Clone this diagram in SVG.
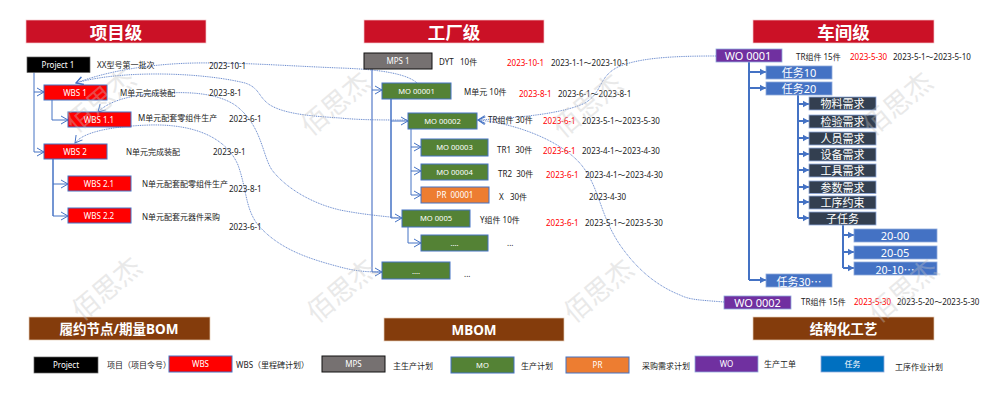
<svg xmlns="http://www.w3.org/2000/svg" width="1000" height="402" viewBox="0 0 1000 402">
<style>
text{font-family:"Noto Sans","Noto Sans CJK SC",sans-serif;font-size:8px;fill:#222}
.c text,.n text{text-anchor:middle;dominant-baseline:central;fill:#fff}
.hd rect{fill:#cb1126;stroke:#f3c6cc;stroke-width:.7}
.hd text{font-size:17.5px;font-weight:700}
.ft rect{fill:#843c0c;stroke:#e6cdb8;stroke-width:.7}
.ft text{font-size:13.5px;font-weight:700}
.k{fill:#000;stroke:#666;stroke-width:.7}
.r{fill:#f00;stroke:#4472c4;stroke-width:1}
.g{fill:#767171;stroke:#111;stroke-width:1}
.m{fill:#548235;stroke:#4472c4;stroke-width:1}
.m + text{font-size:7.6px}
.o{fill:#ed7d31;stroke:#4472c4;stroke-width:1}
.p{fill:#7030a0;stroke:#8faadc;stroke-width:.8}
.b{fill:#4472c4;stroke:#8faadc;stroke-width:.8}
.d{fill:#333f50;stroke:#8faadc;stroke-width:.8}
.u{fill:#0070c0;stroke:#8faadc;stroke-width:.8}
.w text{font-size:11px}
.cjk{font-family:"Noto Sans CJK SC",sans-serif}
.red{fill:#f00}
.tree{fill:none;stroke:#4472c4;stroke-width:1;marker-end:url(#open)}
.line{fill:none;stroke:#4472c4;stroke-width:1}
.lt{stroke:#7f9bd6;stroke-width:1.6}
.th{stroke-width:1.5}
.fat{fill:none;stroke:#4472c4;stroke-width:2}
.fata{fill:none;stroke:#4472c4;stroke-width:2;marker-end:url(#solid)}
.dot{fill:none;stroke:#6486cc;stroke-width:1;stroke-dasharray:1 .8;marker-end:url(#open)}
.wm text{font-size:27px;fill:#c4c4c4;opacity:.36;text-anchor:middle;dominant-baseline:central}
</style>
<defs>
<marker id="open" markerUnits="userSpaceOnUse" markerWidth="10" markerHeight="10" refX="8" refY="5" orient="auto"><path d="M1 1L8 5L1 9" fill="none" stroke="#4472c4" stroke-width="1"/></marker>
<marker id="solid" markerUnits="userSpaceOnUse" markerWidth="7" markerHeight="8" refX="6" refY="4" orient="auto"><path d="M0 .8L6 4L0 7.2Z" fill="#4472c4"/></marker>
</defs>
<g id="connectors">
<path class="line" d="M34 72V152"/><path class="tree" d="M34 92H44"/><path class="tree" d="M34 152H44"/>
<path class="tree" d="M52 100V120H68"/>
<path class="line th" d="M53 159V216"/><path class="tree" d="M53 184H68"/><path class="tree" d="M53 216H68"/>
<path class="line lt" d="M372 69V272"/><path class="tree" d="M372 90H382"/><path class="tree" d="M372 272H382"/>
<path class="line th" d="M391 99V218"/><path class="tree" d="M391 121H408"/><path class="tree" d="M391 218H402"/>
<path class="line" d="M411 129V195"/><path class="tree" d="M411 147H421"/><path class="tree" d="M411 171H421"/><path class="tree" d="M411 195H421"/>
<path class="tree" d="M408 227V243H421"/>
<path class="fat" d="M749 62V280"/><path class="fata" d="M749 72H766"/><path class="fata" d="M749 88H766"/><path class="fata" d="M749 280H766"/>
<path class="fat" d="M798 95V218"/><path class="fata" d="M798 104H809"/><path class="fata" d="M798 121H809"/><path class="fata" d="M798 138H809"/><path class="fata" d="M798 154H809"/><path class="fata" d="M798 170H809"/><path class="fata" d="M798 187H809"/><path class="fata" d="M798 202H809"/><path class="fata" d="M798 218H809"/>
<path class="fat" d="M843 225V268"/><path class="fata" d="M843 235H854"/><path class="fata" d="M843 252H854"/><path class="fata" d="M843 268H854"/>
<path class="dot" d="M417 83C405 72 370 69 340 68C290 66 250 63 213 63C160 62 110 70 76 83"/>
<path class="dot" d="M407 120C380 120 360 120 340 118C310 116 285 114 270 105C258 97 260 88 245 83C200 72 120 70 76 83"/>
<path class="dot" d="M400 218C380 216 360 214 340 210C310 203 285 187 272 170C262 155 262 125 235 105C215 92 185 92 165 93C140 94 112 98 98 112"/>
<path class="dot" d="M382 272C365 272 355 271 340 267C310 259 280 250 258 225C245 208 247 190 238 165C225 135 190 124 150 125C120 126 85 130 75 143"/>
<path class="dot" d="M716 56C680 56 640 57 618 67C598 77 603 92 585 103C560 115 510 118 478 120"/>
<path class="dot" d="M724 302C700 300 690 300 680 295C650 283 632 262 620 245C600 215 600 190 583 167C565 143 520 124 478 120"/>
</g>
<g id="header-project" class="n hd"><rect x="26" y="20" width="180" height="23"/><text x="116" y="31.5">项目级</text></g>
<g id="header-factory" class="n hd"><rect x="364" y="20" width="180" height="23"/><text x="454" y="31.5">工厂级</text></g>
<g id="header-workshop" class="n hd"><rect x="753" y="20" width="181" height="23"/><text x="843.5" y="31.5">车间级</text></g>
<g id="footer-bom" class="n ft"><rect x="29" y="317" width="181" height="23"/><text x="119" y="328.5">履约节点/期量BOM</text></g>
<g id="footer-mbom" class="n ft"><rect x="384" y="318" width="180" height="23"/><text x="474" y="329.5">MBOM</text></g>
<g id="footer-process" class="n ft"><rect x="753" y="317" width="181" height="23"/><text x="843.5" y="328.5">结构化工艺</text></g>

<g id="project-1" class="n"><rect class="k" x="27" y="57" width="63" height="15.500"/><text x="58" y="64.500">Project 1</text></g>
<g id="wbs-1" class="n"><rect class="r" x="44" y="85" width="63" height="15"/><text x="75" y="92">WBS 1</text></g>
<g id="wbs-1-1" class="n"><rect class="r" x="68" y="112" width="63" height="15"/><text x="99" y="119">WBS 1.1</text></g>
<g id="wbs-2" class="n"><rect class="r" x="44" y="144" width="63" height="15"/><text x="75" y="151">WBS 2</text></g>
<g id="wbs-2-1" class="n"><rect class="r" x="68" y="176" width="63" height="15"/><text x="99" y="183">WBS 2.1</text></g>
<g id="wbs-2-2" class="n"><rect class="r" x="68" y="208" width="63" height="15"/><text x="99" y="215">WBS 2.2</text></g>

<g id="mps-1" class="n"><rect class="g" x="364" y="53" width="68" height="16"/><text x="398" y="60.500">MPS 1</text></g>
<g id="mo-00001" class="n"><rect class="m" x="382" y="83" width="69" height="16"/><text x="416.500" y="90.500">MO 00001</text></g>
<g id="mo-00002" class="n"><rect class="m" x="408" y="113" width="69" height="16"/><text x="442.500" y="120.500">MO 00002</text></g>
<g id="mo-00003" class="n"><rect class="m" x="421" y="139" width="67" height="17"/><text x="454.500" y="147">MO 00003</text></g>
<g id="mo-00004" class="n"><rect class="m" x="421" y="164" width="67" height="16"/><text x="454.500" y="171.500">MO 00004</text></g>
<g id="pr-00001" class="n"><rect class="o" x="421" y="187" width="68" height="16"/><text x="455" y="194.500" xml:space="preserve">PR  00001</text></g>
<g id="mo-0005" class="n"><rect class="m" x="402" y="210" width="68" height="17"/><text x="436" y="218">MO 0005</text></g>
<g id="mo-more-1" class="n"><rect class="m" x="421" y="235" width="67" height="16"/><text x="454.500" y="243">....</text></g>
<g id="mo-more-2" class="n"><rect class="m" x="382" y="262" width="68" height="17"/><text x="416" y="271">....</text></g>

<g id="wo-0001" class="n w"><rect class="p" x="716" y="49" width="66" height="13"/><text x="748" y="55.500">WO 0001</text></g>
<g id="task-10" class="n w"><rect class="b" x="766" y="66" width="66" height="13"/><text x="799" y="72.500">任务10</text></g>
<g id="task-20" class="n w"><rect class="b" x="766" y="82" width="66" height="13"/><text x="799" y="88.500">任务20</text></g>
<g id="req-material" class="n w"><rect class="d" x="809" y="97" width="67" height="13"/><text x="842.500" y="103.500">物料需求</text></g>
<g id="req-inspect" class="n w"><rect class="d" x="809" y="115" width="67" height="13"/><text x="842.500" y="121.500">检验需求</text></g>
<g id="req-staff" class="n w"><rect class="d" x="809" y="132" width="67" height="13"/><text x="842.500" y="138.500">人员需求</text></g>
<g id="req-equip" class="n w"><rect class="d" x="809" y="148" width="67" height="13"/><text x="842.500" y="154.500">设备需求</text></g>
<g id="req-tool" class="n w"><rect class="d" x="809" y="164" width="67" height="13"/><text x="842.500" y="170.500">工具需求</text></g>
<g id="req-param" class="n w"><rect class="d" x="809" y="181" width="67" height="12.500"/><text x="842.500" y="187">参数需求</text></g>
<g id="req-constraint" class="n w"><rect class="d" x="809" y="196" width="67" height="13"/><text x="842.500" y="202.500">工序约束</text></g>
<g id="subtask" class="n w"><rect class="d" x="809" y="212" width="67" height="13"/><text x="842.500" y="218.500">子任务</text></g>
<g id="sub-20-00" class="n w"><rect class="b" x="854" y="229" width="83" height="13"/><text x="895" y="235.500">20-00</text></g>
<g id="sub-20-05" class="n w"><rect class="b" x="854" y="246" width="83" height="13"/><text x="895" y="252.500">20-05</text></g>
<g id="sub-20-10" class="n w"><rect class="b" x="854" y="262" width="83" height="13"/><text class="cjk" x="895" y="268.500">20-10…</text></g>
<g id="task-30" class="n w"><rect class="b" x="766" y="274" width="66" height="13"/><text class="cjk" x="799" y="280.500">任务30…</text></g>
<g id="wo-0002" class="n w"><rect class="p" x="724" y="296" width="67" height="13"/><text x="757.500" y="302.500">WO 0002</text></g>

<g id="labels">
<text x="97" y="68">XX型号第一批次</text><text x="209" y="69">2023-10-1</text>
<text x="120" y="96">M单元完成装配</text><text x="209" y="96">2023-8-1</text>
<text x="138" y="121">M单元配套零组件生产</text><text x="229" y="122">2023-6-1</text>
<text x="126" y="155">N单元完成装配</text><text x="213" y="155">2023-9-1</text>
<text x="142" y="187">N单元配套配零组件生产</text><text x="229" y="192">2023-8-1</text>
<text x="142" y="220">N单元配套元器件采购</text><text x="229" y="230">2023-6-1</text>
<text x="439" y="65" xml:space="preserve">DYT   10件</text><text class="red" x="507" y="66">2023-10-1</text><text x="551" y="66">2023-1-1～2023-10-1</text>
<text x="464" y="95">M单元 10件</text><text class="red" x="519" y="97">2023-8-1</text><text x="558" y="97">2023-6-1～2023-8-1</text>
<text x="488" y="123">TR组件 30件</text><text class="red" x="543" y="124">2023-6-1</text><text x="582" y="124">2023-5-1～2023-5-30</text>
<text x="497" y="153" xml:space="preserve">TR1  30件</text><text class="red" x="543" y="154">2023-6-1</text><text x="582" y="154">2023-4-1～2023-4-30</text>
<text x="498" y="177" xml:space="preserve">TR2  30件</text><text class="red" x="546" y="178">2023-6-1</text><text x="585" y="178">2023-4-1～2023-4-30</text>
<text x="499" y="200" xml:space="preserve">X   30件</text><text x="589" y="200">2023-4-30</text>
<text x="480" y="223">Y组件 10件</text><text class="red" x="546" y="226">2023-6-1</text><text x="585" y="226">2023-5-1～2023-5-30</text>
<text x="507" y="246">...</text><text x="464" y="277">...</text>
<text x="796" y="60">TR组件 15件</text><text class="red" x="850" y="60">2023-5-30</text><text x="893" y="60">2023-5-1～2023-5-10</text>
<text x="801" y="305">TR组件 15件</text><text class="red" x="854" y="305">2023-5-30</text><text x="897" y="305">2023-5-20～2023-5-30</text>
</g>
<g id="legend-project" class="n"><rect class="k" x="34" y="357" width="64" height="16"/><text x="66" y="364.500">Project</text></g>
<g id="legend-wbs" class="n"><rect class="r" x="169" y="356" width="63" height="16"/><text x="200.500" y="363.500">WBS</text></g>
<g id="legend-mps" class="n"><rect class="g" x="322" y="356" width="63" height="16"/><text x="353.500" y="363.500">MPS</text></g>
<g id="legend-mo" class="n"><rect class="m" x="451" y="357" width="63" height="16"/><text x="482.500" y="364.500">MO</text></g>
<g id="legend-pr" class="n"><rect class="o" x="566" y="357" width="63" height="16"/><text x="597.500" y="364.500">PR</text></g>
<g id="legend-wo" class="n"><rect class="p" x="695" y="356" width="63" height="16"/><text x="726.500" y="363.500">WO</text></g>
<g id="legend-task" class="n"><rect class="u" x="821" y="356" width="63" height="16"/><text x="852.500" y="363.500">任务</text></g>
<g id="legend-labels">
<text x="107" y="368">项目（项目令号）</text><text x="236" y="368">WBS（里程碑计划）</text><text x="393" y="369">主生产计划</text><text x="521" y="369">生产计划</text><text x="642" y="369">采购需求计划</text><text x="764" y="367">生产工单</text><text x="895" y="370">工序作业计划</text>
</g>
<g id="watermark" class="wm">
<text transform="translate(100 100) rotate(-40)">佰思杰</text>
<text transform="translate(335 103) rotate(-40)">佰思杰</text>
<text transform="translate(587 105) rotate(-40)">佰思杰</text>
<text transform="translate(897 103) rotate(-40)">佰思杰</text>
<text transform="translate(106 288) rotate(-40)">佰思杰</text>
<text transform="translate(341 290) rotate(-40)">佰思杰</text>
<text transform="translate(598 290) rotate(-40)">佰思杰</text>
<text transform="translate(903 290) rotate(-40)">佰思杰</text>
</g>
</svg>
